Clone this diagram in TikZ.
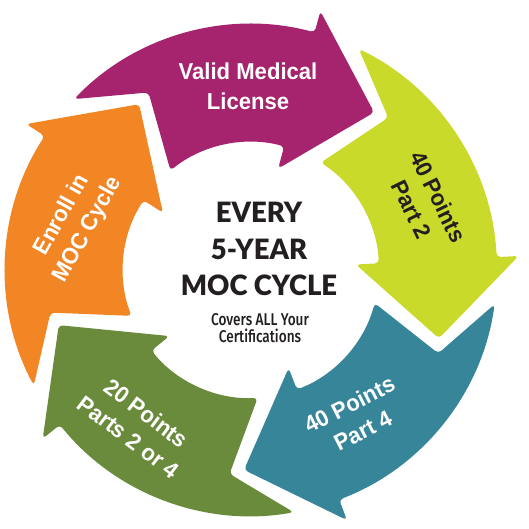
\documentclass[tikz,border=0pt]{standalone}
\usepackage{fontspec}
\setmainfont{Liberation Sans}
\newfontfamily\heavyfont[FakeStretch=0.98]{Lato Black}
\newfontfamily\lblfont[FakeStretch=0.96]{Liberation Sans Bold}
\newfontfamily\condfont[FakeStretch=0.80]{Fira Sans Medium}
\usetikzlibrary{calc}
\definecolor{mocpurple}{RGB}{166,35,110}
\definecolor{moclime}{RGB}{201,218,42}
\definecolor{mocteal}{RGB}{55,133,152}
\definecolor{mocolive}{RGB}{106,139,59}
\definecolor{mocorange}{RGB}{242,133,36}
\definecolor{mocink}{RGB}{35,31,32}
\newcommand{\mocseg}[2]{% tip angle, colour
  \fill[#2, rounded corners=4pt] ($(C)+(#1+84:246pt)$)
    arc[start angle=#1+84, end angle=#1+23, radius=246pt]
    -- ($(C)+(#1+23:268pt)$) -- ($(C)+(#1:200pt)$) -- ($(C)+(#1+23:105pt)$)
    -- ($(C)+(#1+23:128pt)$)
    arc[start angle=#1+23, end angle=#1+77, radius=128pt]
    -- ($(C)+(#1+68:205pt)$) -- cycle;
}
\tikzset{
  lbl/.style={font=\lblfont\fontsize{23}{29.5}\selectfont, align=center, inner sep=0pt, text=white},
  bigtxt/.style={font=\heavyfont\fontsize{28}{34}\selectfont, inner sep=0pt, text=mocink, anchor=base},
  smalltxt/.style={font=\condfont\fontsize{17}{17}\selectfont, inner sep=0pt, text=mocink, anchor=base}
}
\begin{document}
\begin{tikzpicture}[x=1pt,y=1pt]
\useasboundingbox (0,0) rectangle (529,529);
\coordinate (C) at (251,259);
\mocseg{52}{mocpurple}
\mocseg{-20}{moclime}
\mocseg{-92}{mocteal}
\mocseg{-164}{mocolive}
\mocseg{124}{mocorange}
\node[lbl] (purplelbl) at (248,442.5) {Valid Medical\\License};
\node[lbl, text=mocink, rotate=-64] (limelbl) at (425,326) {40 Points\\Part 2};
\node[lbl, rotate=27] (teallbl) at (356,111.5) {40 Points\\Part 4};
\node[lbl, rotate=-37] (olivelbl) at (137.5,104) {20 Points\\Parts 2 or 4};
\node[lbl, rotate=61] (orangelbl) at (75,306.5) {Enroll in\\MOC Cycle};
\node[bigtxt] (every) at (259,306) {EVERY};
\node[bigtxt] (fiveyear) at (259,269) {5-YEAR};
\node[bigtxt] (moccycle) at (259,233) {MOC CYCLE};
\node[smalltxt] (covers) at (260,203) {Covers ALL Your};
\node[smalltxt] (certs) at (260,186) {Certifications};
\end{tikzpicture}
\end{document}
